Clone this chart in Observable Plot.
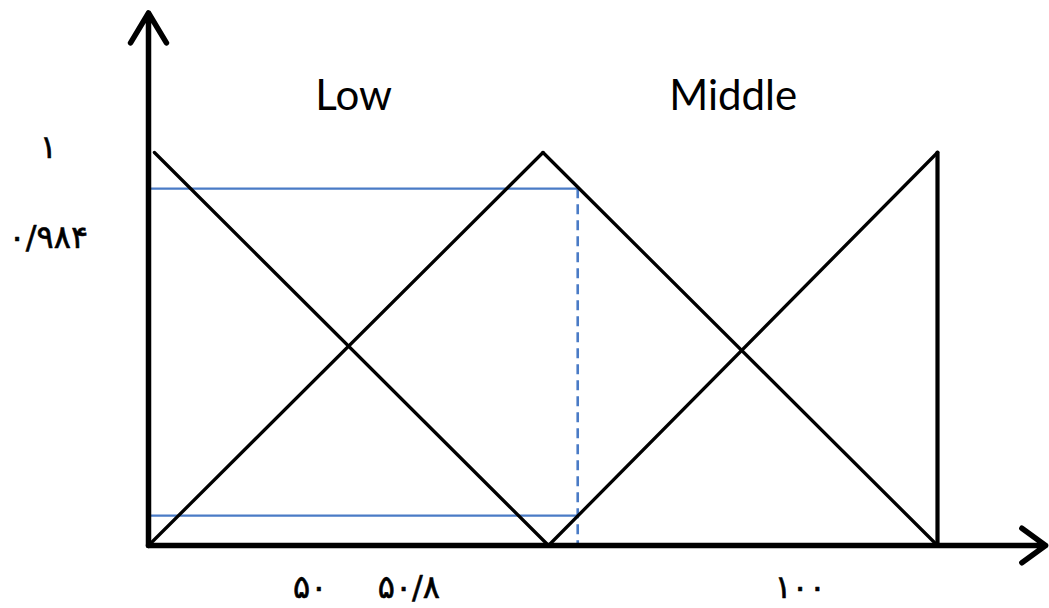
<!DOCTYPE html>
<html>
<head>
<meta charset="utf-8">
<script src="https://cdn.jsdelivr.net/npm/d3@7"></script>
<script src="https://cdn.jsdelivr.net/npm/@observablehq/plot@0.6"></script>
<style>
  html, body { margin: 0; padding: 0; background: #fff; }
  #chart svg { display: block; }
</style>
</head>
<body>
<div id="chart"></div>
<script>
// Membership-function segments (x in input units, y in membership degree)
const segX1 = [0.75, 0, 50, 50.7, 100];
const segY1 = [1, 0, 1, 0, 0];
const segX2 = [50.7, 50, 100, 100, 100];
const segY2 = [0, 1, 0, 1, 1];

// Cut levels (blue) and the input value where they are read
const cutLevels = [0.908, 0.076];
const cutStart = 0.25;
const cutInput = 54.4;

// Axis extents (arrow tips)
const xAxisEnd = 113.7;
const yAxisEnd = 1.355;

// Set names and where they sit
const setNames = ["Low", "Middle"];
const setNameX = [26, 74.1];
const setNameY = 1.143;

// Tick labels (Persian digits)
const xTickValues = [20.5, 33, 82.6];
const xTickLabels = ["۵۰", "۵۰/۸", "۱۰۰"];
const xTickRow = -0.108;
const yTickValues = [1.012, 0.782];
const yTickLabels = ["۱", "۰/۹۸۴"];
const yTickCol = -12.7;

const segs = segX1.map((d, i) => ({x1: d, y1: segY1[i], x2: segX2[i], y2: segY2[i]}));
const cuts = cutLevels.map(v => ({y: v}));
const blue = "#4a7bc6";

const chart = Plot.plot({
  width: 1049,
  height: 608,
  margin: 0,
  x: {domain: [0, 100], range: [148, 937], axis: null},
  y: {domain: [0, 1], range: [545, 152], axis: null},
  style: {background: "#fff"},
  marks: [
    // blue cut lines
    Plot.ruleY(cuts, {y: "y", x1: cutStart, x2: cutInput, stroke: blue, strokeWidth: 2.4}),
    Plot.ruleX([cutInput], {x: d => d, y1: cutLevels[0], y2: 0, stroke: blue, strokeWidth: 2.6, strokeDasharray: "10,6"}),
    // membership lines
    Plot.link(segs, {x1: "x1", y1: "y1", x2: "x2", y2: "y2", stroke: "#000", strokeWidth: (d, i) => i === 4 ? 4.2 : 3.3, strokeLinecap: "round"}),
    // axes with arrows
    Plot.arrow([{x1: 0, y1: 0, x2: xAxisEnd, y2: 0}], {x1: "x1", y1: "y1", x2: "x2", y2: "y2", stroke: "#000", strokeWidth: 5.5, headLength: 8, headAngle: 72, strokeLinecap: "round", strokeLinejoin: "round"}),
    Plot.arrow([{x1: 0, y1: 0, x2: 0, y2: yAxisEnd}], {x1: "x1", y1: "y1", x2: "x2", y2: "y2", stroke: "#000", strokeWidth: 5.5, headLength: 9.5, headAngle: 62, strokeLinecap: "round", strokeLinejoin: "round"}),
    // set names
    Plot.text(setNames, {x: (d, i) => setNameX[i], y: setNameY, text: d => d, fontSize: 42, fontFamily: "Lato", fill: "#000"}),
    // tick labels
    Plot.text(xTickLabels, {x: (d, i) => xTickValues[i], y: xTickRow, text: d => d, fontSize: 32, fontFamily: "DejaVu Sans", fill: "#000", stroke: "#000", strokeWidth: 0.6}),
    Plot.text(yTickLabels, {x: yTickCol, y: (d, i) => yTickValues[i], text: d => d, fontSize: 32, fontFamily: "DejaVu Sans", fill: "#000", stroke: "#000", strokeWidth: 0.6})
  ]
});
document.getElementById("chart").appendChild(chart);
</script>
</body>
</html>
